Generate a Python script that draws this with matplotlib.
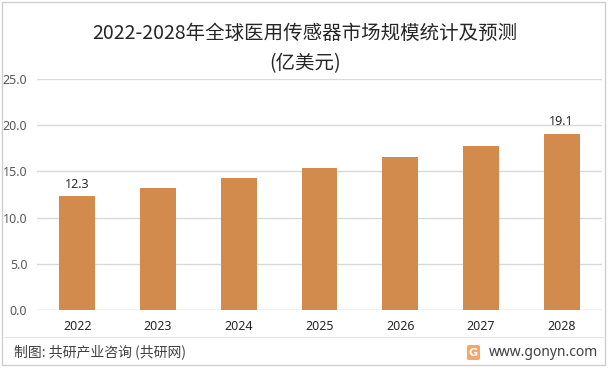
import matplotlib.pyplot as plt
from matplotlib.patches import Rectangle, FancyBboxPatch
from matplotlib.lines import Line2D

plt.rcParams['font.family'] = ['Noto Sans CJK SC', 'DejaVu Sans']

years = ["2022", "2023", "2024", "2025", "2026", "2027", "2028"]
values = [12.3, 13.2, 14.3, 15.4, 16.6, 17.8, 19.1]
labelled = {0: "12.3", 6: "19.1"}
yticks = [0, 5, 10, 15, 20, 25]

BAR = "#D38B4D"
W, H = 610, 368

fig = plt.figure(figsize=(W / 100, H / 100), dpi=100)
ax = fig.add_axes([37 / W, 1 - 310 / H, 565 / W, 231 / H])

x = list(range(len(years)))
ax.bar(x, values, width=0.445, color=BAR, zorder=3)
for i, txt in labelled.items():
    ax.text(i, values[i] + 0.6, txt, ha="center", va="bottom", fontsize=9, color="#262626",
            family=["Noto Sans"])

ax.set_xlim(-0.5, len(years) - 0.5)
ax.set_ylim(0, 25)
ax.set_yticks(yticks)
ax.set_yticklabels([f"{v:.1f}" for v in yticks], fontsize=9, color="#595959", family=["Noto Sans"])
ax.set_xticks(x)
ax.set_xticklabels(years, fontsize=9, color="#262626", family=["Noto Sans"])
ax.tick_params(axis="both", length=0)
ax.tick_params(axis="y", pad=7)
ax.tick_params(axis="x", pad=7)
ax.grid(axis="y", color="#D9D9D9", linewidth=1, zorder=0)
for s in ax.spines.values():
    s.set_visible(False)
ax.axhline(0, color="#D9D9D9", linewidth=1, zorder=2)

fig.text(0.5, 1 - 33 / H, "2022-2028年全球医用传感器市场规模统计及预测", ha="center", va="center",
         fontsize=14, color="#262626")
fig.text(0.5, 1 - 64 / H, "(亿美元)", ha="center", va="center", fontsize=14, color="#262626")

# footer
fig.add_artist(Line2D([5 / W, 603 / W], [1 - 337 / H, 1 - 337 / H], color="#E6E6E6", linewidth=0.8))
fig.text(14 / W, 1 - 352 / H, "制图: 共研产业咨询 (共研网)", ha="left", va="center",
         fontsize=10, color="#404040")
fig.text(598 / W, 1 - 352 / H, "www.gonyn.com", ha="right", va="center",
         fontsize=10, color="#404040", family=["Noto Sans"])
fig.add_artist(FancyBboxPatch((467 / W, 1 - 360 / H), 13 / W, 15 / H,
                              boxstyle="round,pad=0,rounding_size=0.004",
                              facecolor="#F7A56A", edgecolor="none", transform=fig.transFigure))
fig.text(473.5 / W, 1 - 352.5 / H, "G", ha="center", va="center", fontsize=8,
         color="white", fontweight="bold", family=["DejaVu Sans"])

# outer border
fig.add_artist(Rectangle((2 / W, 3 / H), 603 / W, 363 / H, fill=False,
                         edgecolor="#D0D0D0", linewidth=1, transform=fig.transFigure))

fig.savefig("out.png", dpi=100, facecolor="white")
